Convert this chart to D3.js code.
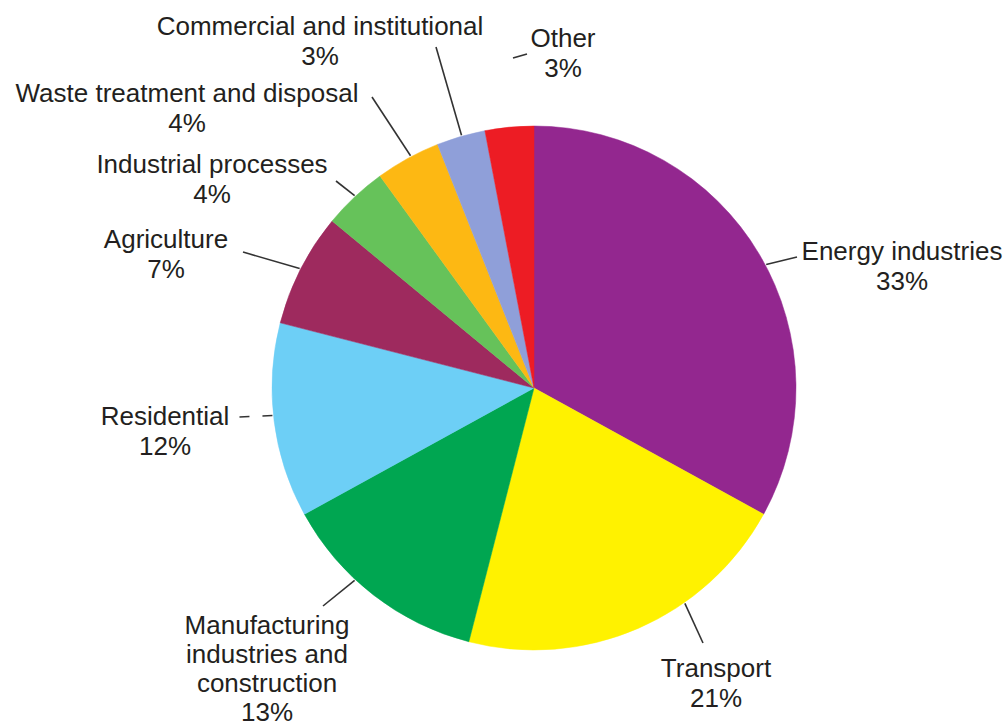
<!DOCTYPE html>
<html>
<head>
<meta charset="utf-8">
<script src="https://cdn.jsdelivr.net/npm/d3@7"></script>
<style>
  html, body { margin: 0; padding: 0; background: #fff; }
  svg { display: block; }
  text { font-family: "Liberation Sans", Arial, sans-serif; font-size: 26px; fill: #231f20; }
</style>
</head>
<body>
<svg id="chart" width="1008" height="727"></svg>
<script>
// Emission shares by sector (%), clockwise from 12 o'clock
const sectors = [
  "Energy industries", "Transport", "Manufacturing industries and construction",
  "Residential", "Agriculture", "Industrial processes",
  "Waste treatment and disposal", "Commercial and institutional", "Other"
];
const shares = [33, 21, 13, 12, 7, 4, 4, 3, 3];
const sliceColors = [
  "#93278f", "#fff200", "#00a651", "#6dcff6", "#9e2a5e",
  "#66c25a", "#fdb813", "#8f9fd9", "#ed1c24"
];

// Label text lines for each sector
const labelLines = [
  ["Energy industries"],
  ["Transport"],
  ["Manufacturing", "industries and", "construction"],
  ["Residential"],
  ["Agriculture"],
  ["Industrial processes"],
  ["Waste treatment and disposal"],
  ["Commercial and institutional"],
  ["Other"]
];

// Callout layout: label anchor (centre x, first baseline), line step, leader angle on the rim (deg) and outer end
const callouts = [
  { x: 902, y: 260, step: 30, angle: 62,  end: [797, 257] },
  { x: 716, y: 677, step: 30, angle: 145, end: [703, 643] },
  { x: 267, y: 634, step: 29, angle: 223, end: [323, 606] },
  { x: 165, y: 425, step: 30, angle: 264, end: [238, 417], dash: "10,13" },
  { x: 166, y: 248, step: 30, angle: 297, end: [243, 252] },
  { x: 212, y: 173, step: 30, angle: 317, end: [336, 181] },
  { x: 187, y: 102, step: 30, angle: 332, end: [372, 97] },
  { x: 320, y: 35,  step: 30, angle: 344, end: [436, 47] },
  { x: 563, y: 47,  step: 30, tick: [[513, 58], [527, 54]] }
];

const cx = 534, cy = 388, radius = 262;
const svg = d3.select("#chart");
const g = svg.append("g").attr("transform", `translate(${cx},${cy})`);

const pie = d3.pie().sort(null).value(d => d).startAngle(0).endAngle(2 * Math.PI);
const arcs = pie(shares);
const arc = d3.arc().innerRadius(0).outerRadius(radius);

g.selectAll("path.slice")
  .data(arcs)
  .join("path")
  .attr("class", "slice")
  .attr("d", arc)
  .attr("fill", (d, i) => sliceColors[i])
  .attr("stroke", (d, i) => sliceColors[i])
  .attr("stroke-width", 0.5);

// Leader lines
const rim = deg => {
  const a = deg * Math.PI / 180;
  return [cx + (radius + 1) * Math.sin(a), cy - (radius + 1) * Math.cos(a)];
};
const line = d3.line();
callouts.forEach(c => {
  const pts = c.tick ? c.tick : [rim(c.angle), c.end];
  svg.append("path")
    .attr("d", line(pts))
    .attr("fill", "none")
    .attr("stroke", "#333")
    .attr("stroke-width", 1.6)
    .attr("stroke-dasharray", c.dash || null);
});

// Labels with percentage on the last line
const fmt = d3.format("d");
callouts.forEach((c, i) => {
  const t = svg.append("text").attr("text-anchor", "middle");
  const lines = labelLines[i].concat([fmt(shares[i]) + "%"]);
  lines.forEach((s, k) => {
    t.append("tspan")
      .attr("x", c.x)
      .attr("y", c.y + k * c.step)
      .text(s);
  });
});
</script>
</body>
</html>
